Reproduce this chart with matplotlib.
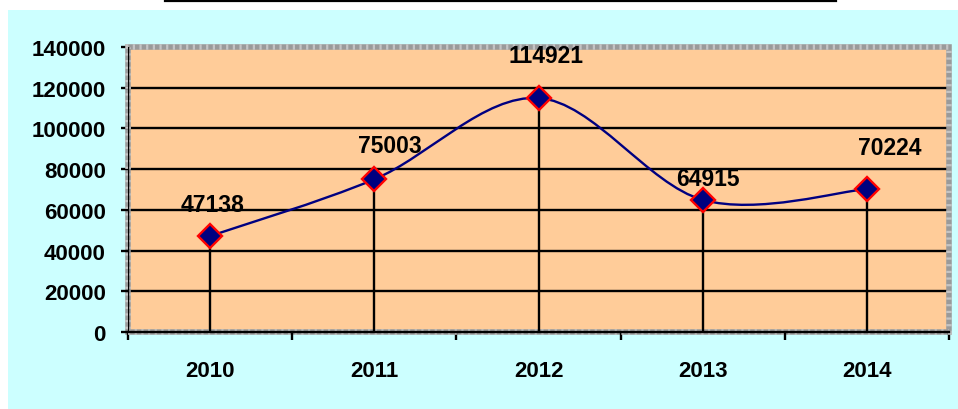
import matplotlib
matplotlib.use("Agg")
import matplotlib.pyplot as plt
import numpy as np
from matplotlib.path import Path
from matplotlib.patches import PathPatch, Rectangle

years = ["2010", "2011", "2012", "2013", "2014"]
values = [47138, 75003, 114921, 64915, 70224]
yticks = [0, 20000, 40000, 60000, 80000, 100000, 120000, 140000]
# label offsets in pixels (style)
label_dx = [2, 16, 7, 5, 23]
label_dy = [32, 34, 43, 21, 42]

plt.rcParams['font.family'] = ['Liberation Sans', 'DejaVu Sans']
W, H = 958, 410
fig = plt.figure(figsize=(W / 100, H / 100), dpi=100, facecolor="white")

# cyan background
fig.patches.append(Rectangle((8 / W, 0), 1 - 8 / W, (H - 11) / H, transform=fig.transFigure,
                             facecolor="#CCFFFF", edgecolor="none", zorder=-10))
# cut-off title underline
fig.lines.append(plt.Line2D([165 / W, 836 / W], [1 - 1.5 / H, 1 - 1.5 / H], transform=fig.transFigure,
                            color="black", lw=1.6, zorder=-9))

L, R, T, B = 128, 949, 48, 333
ax = fig.add_axes([L / W, 1 - B / H, (R - L) / W, (B - T) / H])
ax.set_facecolor("#FFCC99")
x = np.arange(len(values))
ax.set_xlim(-0.5, len(values) - 0.5)
ax.set_ylim(0, 140000)

for s in ax.spines.values():
    s.set_visible(False)

# gray patterned border
ax.add_patch(Rectangle((0, 0), 1, 1, transform=ax.transAxes, fill=False,
                       edgecolor="#9A9A9A", lw=4.0, zorder=1.5, clip_on=False))
ax.add_patch(Rectangle((0, 0), 1, 1, transform=ax.transAxes, fill=False,
                       edgecolor="#C4C4C4", lw=4.0, ls=(0, (0.4, 0.8)), zorder=1.6, clip_on=False))

# gridlines
for v in yticks[1:-1]:
    ax.axhline(v, color="black", lw=1.7, zorder=1)

# axes lines
ax.axvline(-0.5, color="black", lw=1.7, zorder=3)
ax.axhline(0, color="black", lw=1.7, zorder=3, clip_on=False)

# drop lines
ax.vlines(x, 0, values, color="black", lw=1.7, zorder=2)

# smooth curve (Excel-style Catmull-Rom Bezier)
pts = np.column_stack([x, values]).astype(float)
ext = np.vstack([pts[0], pts, pts[-1]])
verts = [tuple(pts[0])]
codes = [Path.MOVETO]
for i in range(len(pts) - 1):
    p0, p1, p2, p3 = ext[i], ext[i + 1], ext[i + 2], ext[i + 3]
    c1 = p1 + (p2 - p0) / 6
    c2 = p2 - (p3 - p1) / 6
    verts += [tuple(c1), tuple(c2), tuple(p2)]
    codes += [Path.CURVE4] * 3
ax.add_patch(PathPatch(Path(verts, codes), facecolor="none", edgecolor="#000080", lw=1.7, zorder=4))

ax.plot(x, values, ls="none", marker="D", markersize=12, markerfacecolor="#000080",
        markeredgecolor="red", markeredgewidth=1.7, zorder=5)

for xi, v, dx, dy in zip(x, values, label_dx, label_dy):
    ax.annotate(f"{v}", (xi, v), xytext=(dx, dy), textcoords="offset pixels",
                ha="center", va="center", fontsize=16.5, fontweight="bold", zorder=6)

# ticks
ax.set_yticks(yticks)
ax.set_yticklabels([str(v) for v in yticks], fontsize=16, fontweight="bold")
ax.tick_params(axis="y", direction="out", length=5, width=1.7, pad=11, color="black")
ax.set_xticks(np.arange(-0.5, len(values), 1.0))
ax.set_xticklabels([])
ax.tick_params(axis="x", which="major", direction="out", length=6, width=1.7, color="black")
ax.set_xticks(x, minor=True)
ax.set_xticklabels(years, minor=True, fontsize=16, fontweight="bold")
ax.tick_params(axis="x", which="minor", length=0, pad=20)

fig.savefig("out.png", dpi=100, facecolor="white")
